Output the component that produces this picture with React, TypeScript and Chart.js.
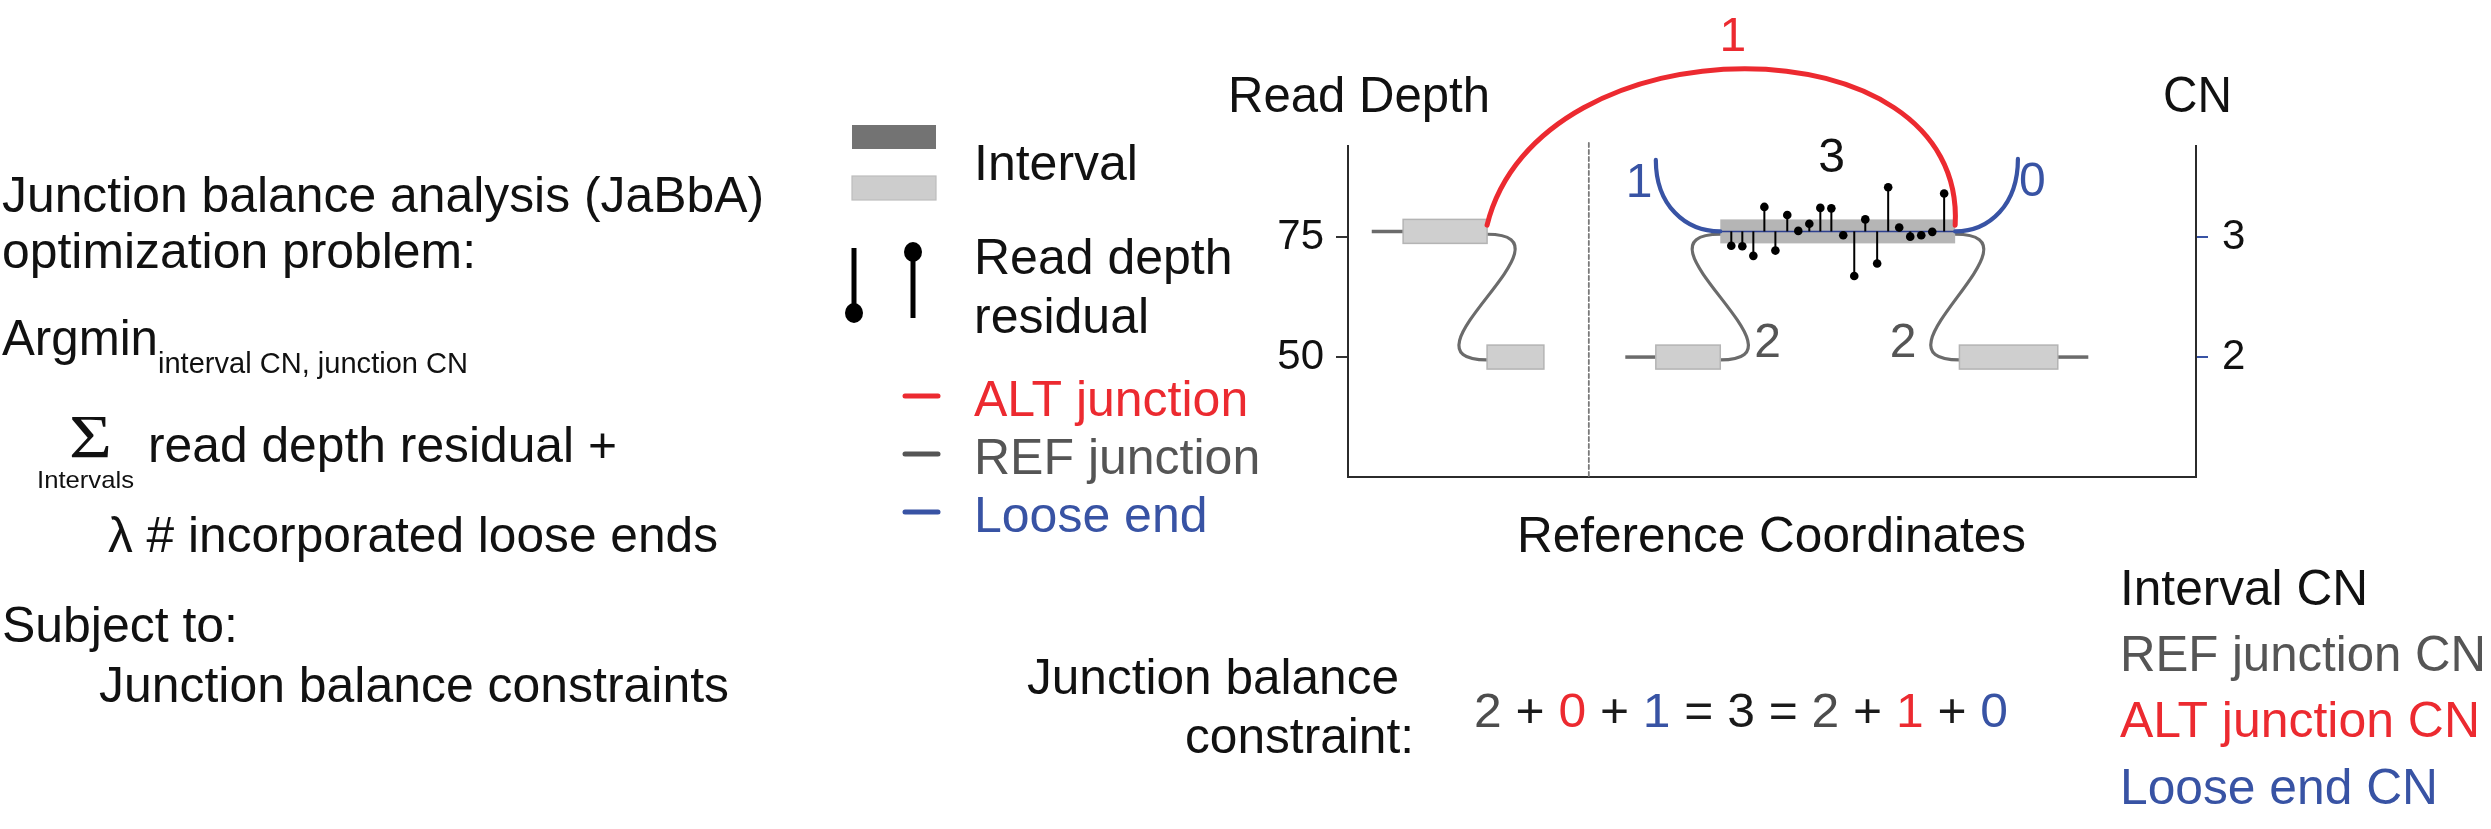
import React, { useEffect, useRef } from 'react';
import { Chart, registerables } from 'chart.js';

Chart.register(...registerables);

// reference coordinates: arbitrary units, 0–100 across the panel
const intervalStart = [6.5, 16.4, 36.3, 43.9, 72.1];
const intervalEnd = [16.4, 23.1, 43.9, 71.6, 83.7];
const intervalDepth = [76.2, 50, 50, 76.2, 50];
const intervalFocus = [false, false, false, true, false];
const intervalCN = ['', '', '', '3', ''];

// reference flanks drawn as thin lines next to intervals
const flankFrom = [2.8, 32.7, 83.7];
const flankTo = [6.5, 36.3, 87.3];
const flankDepth = [76.2, 50, 50];

const breakpoints = [28.4];

// REF junctions: end of interval refFrom -> start of interval refTo
const refFrom = [0, 2, 3];
const refTo = [1, 3, 4];
const refCN = ['', '2', '2'];
const refSwing = 11.5;

// ALT junctions: end of altFrom -> end of altTo, arcing up to altApex (read depth units)
const altFrom = [0];
const altTo = [3];
const altCN = ['1'];
const altApex = [121];

// loose ends hanging off interval 3
const looseInterval = [3, 3];
const looseSide = ['start', 'end'];
const looseTipX = [36.3, 79.0];
const looseTipDepth = [91.1, 91.3];
const looseCN = ['1', '0'];

// read depth bins on the central interval
const residualX = [45.2, 46.5, 47.8, 49.1, 50.4, 51.8, 53.1, 54.4, 55.7, 57.0,
  58.4, 59.7, 61.0, 62.4, 63.7, 65.0, 66.3, 67.6, 68.9, 70.3];
const residualDepth = [73.2, 73.1, 71.1, 81.3, 72.2, 79.6, 76.3, 77.8, 81.1, 81.0,
  75.4, 66.9, 78.7, 69.5, 85.4, 77.0, 75.1, 75.4, 76.1, 84.1];

const depthTicks = [50, 75];
const cnTicks = [2, 3];
const depthMin = 25;
const depthMax = 94;
const depthPerCN = 25;

const eqTokens = ['2', '+', '0', '+', '1', '=', '3', '=', '2', '+', '1', '+', '0'];
const eqKinds = ['ref', 'op', 'alt', 'op', 'loose', 'op', 'int', 'op', 'ref', 'op', 'alt', 'op', 'loose'];

const RED = '#ec2a30';
const BLUE = '#3853a4';
const GREY = '#555555';
const CURVE = '#6b6b6b';
const INK = '#111111';
const FONT = '"Liberation Sans", Arial, Helvetica, sans-serif';

type Pt = [number, number];

function text(ctx: CanvasRenderingContext2D, s: string, x: number, y: number,
  o: { size?: number; color?: string; align?: 'left' | 'right' | 'center'; width?: number; family?: string } = {}) {
  const size = o.size ?? 50;
  ctx.font = `${size}px ${o.family ?? FONT}`;
  ctx.fillStyle = o.color ?? INK;
  ctx.textAlign = 'left';
  ctx.textBaseline = 'alphabetic';
  const w = ctx.measureText(s).width;
  const sx = o.width ? o.width / w : 1;
  const align = o.align ?? 'left';
  const x0 = align === 'left' ? x : align === 'right' ? x - w * sx : x - (w * sx) / 2;
  ctx.save();
  ctx.translate(x0, y);
  ctx.scale(sx, 1);
  ctx.fillText(s, 0, 0);
  ctx.restore();
}

function bezier(ctx: CanvasRenderingContext2D, p0: Pt, p1: Pt, p2: Pt, p3: Pt) {
  ctx.beginPath();
  ctx.moveTo(p0[0], p0[1]);
  ctx.bezierCurveTo(p1[0], p1[1], p2[0], p2[1], p3[0], p3[1]);
  ctx.stroke();
}

function bezierAt(t: number, p0: Pt, p1: Pt, p2: Pt, p3: Pt): Pt {
  const u = 1 - t;
  const a = u * u * u, b = 3 * u * u * t, c = 3 * u * t * t, d = t * t * t;
  return [a * p0[0] + b * p1[0] + c * p2[0] + d * p3[0], a * p0[1] + b * p1[1] + c * p2[1] + d * p3[1]];
}

const diagram = {
  id: 'jabbaDiagram',
  beforeDatasetsDraw(chart: Chart) {
    const ctx = chart.ctx;
    const xs = chart.scales.x;
    const ys = chart.scales.y;
    const px = (v: number) => xs.getPixelForValue(v);
    const py = (v: number) => ys.getPixelForValue(v);
    const area = chart.chartArea;
    ctx.save();
    ctx.lineCap = 'round';

    // breakpoint between the two loci
    ctx.strokeStyle = '#7a7a7a';
    ctx.lineWidth = 1.8;
    ctx.setLineDash([4, 3]);
    breakpoints.forEach((b) => {
      ctx.beginPath();
      ctx.moveTo(px(b), area.top - 3);
      ctx.lineTo(px(b), area.bottom);
      ctx.stroke();
    });
    ctx.setLineDash([]);

    // flanks
    ctx.strokeStyle = CURVE;
    ctx.lineWidth = 3.5;
    ctx.lineCap = 'butt';
    flankFrom.forEach((f, i) => {
      ctx.beginPath();
      ctx.moveTo(px(f), py(flankDepth[i]));
      ctx.lineTo(px(flankTo[i]), py(flankDepth[i]));
      ctx.stroke();
    });

    // REF junctions
    ctx.lineCap = 'round';
    ctx.lineWidth = 3.2;
    ctx.strokeStyle = CURVE;
    refFrom.forEach((a, i) => {
      const b = refTo[i];
      const p0: Pt = [px(intervalEnd[a]), py(intervalDepth[a] - 0.6)];
      const p3: Pt = [px(intervalStart[b]), py(intervalDepth[b] - 0.6)];
      const sw = px(refSwing) - px(0);
      bezier(ctx, p0, [p0[0] + sw, p0[1]], [p3[0] - sw, p3[1]], p3);
    });

    // intervals
    intervalStart.forEach((s, i) => {
      const x0 = px(s), x1 = px(intervalEnd[i]);
      const y0 = py(intervalDepth[i] + 2.5), y1 = py(intervalDepth[i] - 2.5);
      if (intervalFocus[i]) {
        ctx.fillStyle = '#b5b5b5';
        ctx.fillRect(x0, y0, x1 - x0, y1 - y0);
      } else {
        ctx.fillStyle = '#cfcfcf';
        ctx.fillRect(x0, y0, x1 - x0, y1 - y0);
        ctx.strokeStyle = '#b4b4b4';
        ctx.lineWidth = 1.5;
        ctx.strokeRect(x0, y0, x1 - x0, y1 - y0);
      }
    });

    // navy segment line on the focus interval
    ctx.strokeStyle = '#2c3f8f';
    ctx.lineWidth = 1.5;
    ctx.lineCap = 'butt';
    looseInterval.slice(0, 1).forEach((k) => {
      ctx.beginPath();
      ctx.moveTo(px(intervalStart[k]), py(intervalDepth[k]));
      ctx.lineTo(px(intervalEnd[k]), py(intervalDepth[k]));
      ctx.stroke();
    });

    // residual stems
    const focus = intervalFocus.indexOf(true);
    ctx.strokeStyle = '#000';
    ctx.lineWidth = 2;
    residualX.forEach((x, i) => {
      ctx.beginPath();
      ctx.moveTo(px(x), py(intervalDepth[focus]));
      ctx.lineTo(px(x), py(residualDepth[i]));
      ctx.stroke();
    });

    // loose ends
    ctx.lineCap = 'round';
    ctx.strokeStyle = BLUE;
    ctx.lineWidth = 4.2;
    looseInterval.forEach((k, i) => {
      const ax = looseSide[i] === 'start' ? intervalStart[k] : intervalEnd[k];
      const A: Pt = [px(ax), py(intervalDepth[k])];
      const T: Pt = [px(looseTipX[i]), py(looseTipDepth[i])];
      bezier(ctx, T, [T[0], T[1] + 0.63 * (A[1] - T[1])], [T[0] + 0.45 * (A[0] - T[0]), A[1]], A);
      if (A[0] > T[0]) text(ctx, looseCN[i], T[0] - 30, T[1] + 37, { size: 48, color: BLUE });
      else text(ctx, looseCN[i], T[0] + 1, T[1] + 37, { size: 48, color: BLUE });
    });

    // ALT junctions
    ctx.strokeStyle = RED;
    ctx.lineWidth = 5;
    altFrom.forEach((a, i) => {
      const b = altTo[i];
      const x0 = intervalEnd[a], x3 = intervalEnd[b];
      const p0: Pt = [px(x0), py(intervalDepth[a] + 1.3)];
      const p3: Pt = [px(x3), py(intervalDepth[b] + 1.3)];
      const p1: Pt = [px(x0 + 0.11 * (x3 - x0)), py(altApex[i])];
      const p2: Pt = [px(x3 + 0.025 * (x3 - x0)), py(altApex[i])];
      bezier(ctx, p0, p1, p2, p3);
      const top = bezierAt(0.5, p0, p1, p2, p3);
      text(ctx, altCN[i], top[0] - 12, top[1] - 18, { size: 48, color: RED, align: 'center' });
    });

    // copy-number labels
    intervalCN.forEach((c, i) => {
      if (!c) return;
      const mid = (px(intervalStart[i]) + px(intervalEnd[i])) / 2;
      text(ctx, c, mid - 6, py(intervalDepth[i]) - 59, { size: 48, color: INK, align: 'center' });
    });
    refCN.forEach((c, i) => {
      if (!c) return;
      const a = refFrom[i], b = refTo[i];
      if (intervalDepth[a] < intervalDepth[b]) {
        text(ctx, c, px(intervalEnd[a]) + 34, py(intervalDepth[a]), { size: 48, color: GREY });
      } else {
        text(ctx, c, px(intervalStart[b]) - 43, py(intervalDepth[b]), { size: 48, color: GREY, align: 'right' });
      }
    });
    ctx.restore();
  },
  afterDraw(chart: Chart) {
    const ctx = chart.ctx;
    ctx.save();
    // optimisation problem text
    text(ctx, 'Junction balance analysis (JaBbA)', 2, 212, { width: 762 });
    text(ctx, 'optimization problem:', 2, 268, { width: 474 });
    text(ctx, 'Argmin', 2, 355, { width: 156 });
    text(ctx, 'interval CN, junction CN', 158, 373, { size: 29, width: 310 });
    text(ctx, 'Σ', 69, 457, { size: 62, width: 43, family: '"Liberation Serif", "DejaVu Serif", serif' });
    text(ctx, 'read depth residual +', 148, 462, { width: 469 });
    text(ctx, 'Intervals', 37, 488, { size: 24, width: 97 });
    text(ctx, 'λ # incorporated loose ends', 108, 552, { width: 610 });
    text(ctx, 'Subject to:', 2, 642, { width: 236 });
    text(ctx, 'Junction balance constraints', 99, 702, { width: 630 });

    // legend
    ctx.fillStyle = '#737373';
    ctx.fillRect(852, 125, 84, 24);
    ctx.fillStyle = '#cdcdcd';
    ctx.fillRect(852, 176, 84, 24);
    ctx.strokeStyle = '#bdbdbd';
    ctx.lineWidth = 1.2;
    ctx.strokeRect(852, 176, 84, 24);
    text(ctx, 'Interval', 974, 180);

    ctx.strokeStyle = '#000';
    ctx.fillStyle = '#000';
    ctx.lineWidth = 5;
    ctx.lineCap = 'butt';
    ctx.beginPath(); ctx.moveTo(854, 248); ctx.lineTo(854, 313); ctx.stroke();
    ctx.beginPath(); ctx.ellipse(854, 313, 9, 10, 0, 0, Math.PI * 2); ctx.fill();
    ctx.beginPath(); ctx.moveTo(913, 252); ctx.lineTo(913, 318); ctx.stroke();
    ctx.beginPath(); ctx.ellipse(913, 252, 9, 10, 0, 0, Math.PI * 2); ctx.fill();
    text(ctx, 'Read depth', 974, 274);
    text(ctx, 'residual', 974, 333);

    const legendLines: [string, string, number][] = [[RED, 'ALT junction', 416], [GREY, 'REF junction', 474], [BLUE, 'Loose end', 532]];
    legendLines.forEach(([c, s, y]) => {
      ctx.strokeStyle = c;
      ctx.lineWidth = 5;
      ctx.lineCap = 'round';
      ctx.beginPath(); ctx.moveTo(905, y - 20); ctx.lineTo(938, y - 20); ctx.stroke();
      text(ctx, s, 974, y, { color: c });
    });

    // panel titles
    text(ctx, 'Read Depth', 1228, 112, { width: 262 });
    text(ctx, 'CN', 2163, 112, { width: 69 });
    text(ctx, 'Reference Coordinates', 2026, 552, { align: 'right', width: 509 });

    // balance constraint
    text(ctx, 'Junction balance', 1027, 694, { width: 372 });
    text(ctx, 'constraint:', 1185, 753, { width: 229 });
    ctx.font = `48px ${FONT}`;
    const full = eqTokens.join(' ');
    const sx = 534 / ctx.measureText(full).width;
    const colours: Record<string, string> = { ref: '#4d4d4d', op: '#1a1a1a', alt: RED, loose: BLUE, int: '#1a1a1a' };
    eqTokens.forEach((t, i) => {
      ctx.font = `48px ${FONT}`;
      const pre = i ? eqTokens.slice(0, i).join(' ') + ' ' : '';
      const off = ctx.measureText(pre).width * sx;
      const w = ctx.measureText(t).width * sx;
      text(ctx, t, 1474 + off, 727, { size: 48, color: colours[eqKinds[i]], width: w });
    });

    text(ctx, 'Interval CN', 2120, 605, { width: 248 });
    text(ctx, 'REF junction CN', 2120, 671, { color: GREY, width: 366 });
    text(ctx, 'ALT junction CN', 2120, 737, { color: RED, width: 360 });
    text(ctx, 'Loose end CN', 2120, 804, { color: BLUE, width: 318 });
    ctx.restore();
  },
};

export default function App() {
  const canvasRef = useRef<HTMLCanvasElement | null>(null);

  useEffect(() => {
    const canvas = canvasRef.current;
    if (!canvas) return;
    Chart.defaults.font.family = FONT;
    const chart = new Chart(canvas, {
      type: 'scatter',
      data: {
        datasets: [
          {
            label: 'Read depth residual',
            data: residualX.map((x, i) => ({ x, y: residualDepth[i] })),
            pointRadius: 4.3,
            pointHoverRadius: 4.3,
            pointBackgroundColor: '#000',
            pointBorderWidth: 0,
            showLine: false,
            clip: false,
            yAxisID: 'y',
          },
        ],
      },
      options: {
        animation: false,
        responsive: true,
        maintainAspectRatio: false,
        layout: { padding: { left: 1200, right: 215, top: 146, bottom: 352 } },
        plugins: { legend: { display: false }, tooltip: { enabled: false } },
        events: [],
        scales: {
          x: {
            type: 'linear',
            position: 'bottom',
            min: 0,
            max: 100,
            grid: { display: false },
            ticks: { display: false },
            border: { display: true, color: '#2b2b2b', width: 2 },
            afterFit: (s: any) => { s.height = 0; },
          },
          y: {
            type: 'linear',
            position: 'left',
            min: depthMin,
            max: depthMax,
            afterBuildTicks: (s: any) => { s.ticks = depthTicks.map((value) => ({ value })); },
            ticks: { color: INK, font: { size: 42, family: FONT }, padding: 12 },
            grid: { display: true, drawOnChartArea: false, drawTicks: true, tickLength: 12, color: '#333', lineWidth: 2 },
            border: { display: true, color: '#2b2b2b', width: 2 },
            afterFit: (s: any) => { s.width = 148; },
          },
          y2: {
            type: 'linear',
            position: 'right',
            min: depthMin / depthPerCN,
            max: depthMax / depthPerCN,
            afterBuildTicks: (s: any) => { s.ticks = cnTicks.map((value) => ({ value })); },
            ticks: { color: INK, font: { size: 42, family: FONT }, padding: 14 },
            grid: { display: true, drawOnChartArea: false, drawTicks: true, tickLength: 12, color: BLUE, lineWidth: 2 },
            border: { display: true, color: '#2b2b2b', width: 2 },
            afterFit: (s: any) => { s.width = 80; },
          },
        },
      },
      plugins: [diagram],
    } as any);
    return () => chart.destroy();
  }, []);

  return (
    <div style={{ position: 'absolute', left: 0, top: 0, width: 2491, height: 829, background: '#fff' }}>
      <canvas ref={canvasRef} aria-label="JaBbA junction balance diagram" />
    </div>
  );
}
